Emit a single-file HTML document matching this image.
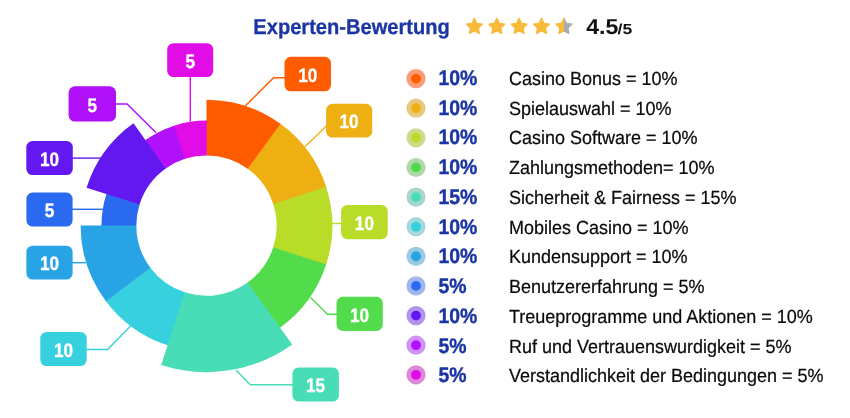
<!DOCTYPE html>
<html><head><meta charset="utf-8"><title>Experten-Bewertung</title>
<style>
html,body{margin:0;padding:0;background:#fff;}
body{width:850px;height:418px;overflow:hidden;font-family:"Liberation Sans",sans-serif;}
#wrap{width:850px;height:418px;will-change:transform;background:#fff;}
svg{display:block;}
text{font-family:"Liberation Sans",sans-serif;text-rendering:geometricPrecision;}
.lt{font-size:19.5px;font-weight:bold;fill:#fff;stroke:#fff;stroke-width:0.35px;}
.title{font-size:21.5px;font-weight:bold;fill:#1B36A4;stroke:#1B36A4;stroke-width:0.3px;}
.pc{font-size:21px;font-weight:bold;fill:#1B36A4;stroke:#1B36A4;stroke-width:0.4px;}
.tx{font-size:19px;fill:#0a0a0a;stroke:#0a0a0a;stroke-width:0.22px;}
.r1{font-size:21.6px;font-weight:bold;fill:#111;}
.r2{font-size:14.6px;font-weight:bold;fill:#111;}
</style></head><body>
<div id="wrap"><svg width="850" height="418" viewBox="0 0 850 418">
<defs><linearGradient id="half" x1="0" x2="1" y1="0" y2="0"><stop offset="0.5" stop-color="#F9BA3A"/><stop offset="0.5" stop-color="#A9ABAE"/></linearGradient></defs>
<rect width="850" height="418" fill="#fff"/>
<g id="leaders">
<polyline points="286.0,77.7 273.6,77.7 245.3,106.0" fill="none" stroke="#FF5C00" stroke-width="1.4"/>
<rect x="284.5" y="56.8" width="46.5" height="34.5" rx="6.3" fill="#FF5C00"/>
<text transform="translate(307.8,81.6) scale(0.88,1)" text-anchor="middle" class="lt">10</text>
<polyline points="328.0,124.5 304.9,146.8" fill="none" stroke="#EDAF12" stroke-width="1.4"/>
<rect x="326.1" y="103.8" width="46.1" height="33.7" rx="6.3" fill="#EDAF12"/>
<text transform="translate(349.1,128.2) scale(0.88,1)" text-anchor="middle" class="lt">10</text>
<polyline points="343.0,223.5 331.0,223.5" fill="none" stroke="#B8DC28" stroke-width="1.4"/>
<rect x="341.1" y="204.9" width="46.6" height="34.3" rx="6.3" fill="#B8DC28"/>
<text transform="translate(364.4,229.7) scale(0.88,1)" text-anchor="middle" class="lt">10</text>
<polyline points="338.0,314.2 327.5,314.2 310.6,297.4" fill="none" stroke="#52DC4C" stroke-width="1.4"/>
<rect x="336.5" y="296.8" width="46.3" height="34.1" rx="6.3" fill="#52DC4C"/>
<text transform="translate(359.6,321.5) scale(0.88,1)" text-anchor="middle" class="lt">10</text>
<polyline points="294.0,384.8 250.4,384.8 235.9,369.9" fill="none" stroke="#48DCB7" stroke-width="1.4"/>
<rect x="292.4" y="367.4" width="46.5" height="34.2" rx="6.3" fill="#48DCB7"/>
<text transform="translate(315.6,392.1) scale(0.88,1)" text-anchor="middle" class="lt">15</text>
<polyline points="85.0,349.5 107.6,349.5 130.9,325.8" fill="none" stroke="#36D0DE" stroke-width="1.4"/>
<rect x="40.3" y="331.9" width="46.4" height="34.1" rx="6.3" fill="#36D0DE"/>
<text transform="translate(63.5,356.6) scale(0.88,1)" text-anchor="middle" class="lt">10</text>
<polyline points="71.0,262.7 86.0,262.7" fill="none" stroke="#28A4E6" stroke-width="1.4"/>
<rect x="26.4" y="245.7" width="46.2" height="33.9" rx="6.3" fill="#28A4E6"/>
<text transform="translate(49.5,270.2) scale(0.88,1)" text-anchor="middle" class="lt">10</text>
<polyline points="71.0,209.3 103.0,209.3" fill="none" stroke="#2A6AF0" stroke-width="1.4"/>
<rect x="26.4" y="192.6" width="46.2" height="33.9" rx="6.3" fill="#2A6AF0"/>
<text transform="translate(49.5,217.2) scale(0.88,1)" text-anchor="middle" class="lt">5</text>
<polyline points="71.0,158.1 101.0,158.1" fill="none" stroke="#6418F0" stroke-width="1.4"/>
<rect x="26.3" y="140.9" width="46.5" height="34.1" rx="6.3" fill="#6418F0"/>
<text transform="translate(49.5,165.5) scale(0.88,1)" text-anchor="middle" class="lt">10</text>
<polyline points="114.0,104.0 127.1,104.0 156.1,132.7" fill="none" stroke="#B010FA" stroke-width="1.4"/>
<rect x="68.6" y="86.3" width="47.4" height="35.3" rx="6.3" fill="#B010FA"/>
<text transform="translate(92.3,111.5) scale(0.88,1)" text-anchor="middle" class="lt">5</text>
<polyline points="190.3,75.0 190.3,121.5" fill="none" stroke="#E20CE6" stroke-width="1.4"/>
<rect x="167.2" y="43.2" width="46.0" height="33.9" rx="6.3" fill="#E20CE6"/>
<text transform="translate(190.2,67.8) scale(0.88,1)" text-anchor="middle" class="lt">5</text>
</g>
<g id="donut">
<path d="M205.95 120.60A105.0 105.0 0 0 1 207.42 120.60L207.11 155.40A70.2 70.2 0 0 0 206.13 155.40Z" fill="#E20CE6"/>
<path d="M206.50 99.80A125.8 125.8 0 0 1 280.44 123.83L247.76 168.81A70.2 70.2 0 0 0 206.50 155.40Z" fill="#FF5C00"/>
<path d="M279.91 123.44A125.8 125.8 0 0 1 281.33 124.47L248.26 169.17A70.2 70.2 0 0 0 247.46 168.59Z" fill="#FF5C00"/>
<path d="M280.44 123.83A125.8 125.8 0 0 1 326.14 186.73L273.26 203.91A70.2 70.2 0 0 0 247.76 168.81Z" fill="#EDAF12"/>
<path d="M325.94 186.10A125.8 125.8 0 0 1 326.48 187.77L273.45 204.49A70.2 70.2 0 0 0 273.15 203.56Z" fill="#EDAF12"/>
<path d="M326.14 186.73A125.8 125.8 0 0 1 326.14 264.47L273.26 247.29A70.2 70.2 0 0 0 273.26 203.91Z" fill="#B8DC28"/>
<path d="M326.34 263.85A125.8 125.8 0 0 1 325.80 265.52L273.07 247.87A70.2 70.2 0 0 0 273.38 246.94Z" fill="#B8DC28"/>
<path d="M326.14 264.47A125.8 125.8 0 0 1 280.09 327.63L247.56 282.54A70.2 70.2 0 0 0 273.26 247.29Z" fill="#52DC4C"/>
<path d="M280.62 327.25A125.8 125.8 0 0 1 279.19 328.27L247.07 282.89A70.2 70.2 0 0 0 247.86 282.32Z" fill="#52DC4C"/>
<path d="M292.20 344.42A146.5 146.5 0 0 1 161.23 364.93L184.81 292.36A70.2 70.2 0 0 0 247.56 282.54Z" fill="#48DCB7"/>
<path d="M168.25 345.44A125.8 125.8 0 0 1 166.58 344.90L184.23 292.17A70.2 70.2 0 0 0 185.16 292.48Z" fill="#48DCB7"/>
<path d="M167.63 345.24A125.8 125.8 0 0 1 105.90 301.13L150.36 267.75A70.2 70.2 0 0 0 184.81 292.36Z" fill="#36D0DE"/>
<path d="M106.30 301.66A125.8 125.8 0 0 1 105.24 300.25L150.00 267.26A70.2 70.2 0 0 0 150.58 268.04Z" fill="#36D0DE"/>
<path d="M105.90 301.13A125.8 125.8 0 0 1 80.70 225.60L136.30 225.60A70.2 70.2 0 0 0 150.36 267.75Z" fill="#28A4E6"/>
<path d="M101.50 226.15A105.0 105.0 0 0 1 101.50 224.68L136.30 224.99A70.2 70.2 0 0 0 136.30 225.97Z" fill="#28A4E6"/>
<path d="M101.50 225.60A105.0 105.0 0 0 1 106.36 194.03L139.55 204.49A70.2 70.2 0 0 0 136.30 225.60Z" fill="#2A6AF0"/>
<path d="M106.20 194.55A105.0 105.0 0 0 1 106.64 193.15L139.74 203.91A70.2 70.2 0 0 0 139.44 204.84Z" fill="#2A6AF0"/>
<path d="M86.52 187.77A125.8 125.8 0 0 1 133.45 123.18L165.73 168.45A70.2 70.2 0 0 0 139.55 204.49Z" fill="#6418F0"/>
<path d="M145.08 140.44A105.0 105.0 0 0 1 146.27 139.59L166.23 168.10A70.2 70.2 0 0 0 165.44 168.66Z" fill="#6418F0"/>
<path d="M145.53 140.12A105.0 105.0 0 0 1 174.23 125.68L184.92 158.80A70.2 70.2 0 0 0 165.73 168.45Z" fill="#B010FA"/>
<path d="M173.70 125.85A105.0 105.0 0 0 1 175.10 125.40L185.51 158.61A70.2 70.2 0 0 0 184.57 158.91Z" fill="#B010FA"/>
<path d="M174.23 125.68A105.0 105.0 0 0 1 206.50 120.60L206.50 155.40A70.2 70.2 0 0 0 184.92 158.80Z" fill="#E20CE6"/>
</g>
<text transform="translate(253.3,34.4) scale(0.935,1)" class="title">Experten-Bewertung</text>
<g id="stars">
<polygon points="474.40,18.20 476.93,23.22 482.48,24.07 478.49,28.03 479.40,33.58 474.40,31.00 469.40,33.58 470.31,28.03 466.32,24.07 471.87,23.22" fill="#F9BA3A" stroke="#F9BA3A" stroke-width="1.2" stroke-linejoin="round"/>
<polygon points="496.80,18.20 499.33,23.22 504.88,24.07 500.89,28.03 501.80,33.58 496.80,31.00 491.80,33.58 492.71,28.03 488.72,24.07 494.27,23.22" fill="#F9BA3A" stroke="#F9BA3A" stroke-width="1.2" stroke-linejoin="round"/>
<polygon points="519.10,18.20 521.63,23.22 527.18,24.07 523.19,28.03 524.10,33.58 519.10,31.00 514.10,33.58 515.01,28.03 511.02,24.07 516.57,23.22" fill="#F9BA3A" stroke="#F9BA3A" stroke-width="1.2" stroke-linejoin="round"/>
<polygon points="541.50,18.20 544.03,23.22 549.58,24.07 545.59,28.03 546.50,33.58 541.50,31.00 536.50,33.58 537.41,28.03 533.42,24.07 538.97,23.22" fill="#F9BA3A" stroke="#F9BA3A" stroke-width="1.2" stroke-linejoin="round"/>
<polygon points="563.90,18.20 566.43,23.22 571.98,24.07 567.99,28.03 568.90,33.58 563.90,31.00 558.90,33.58 559.81,28.03 555.82,24.07 561.37,23.22" fill="url(#half)" stroke="url(#half)" stroke-width="1.2" stroke-linejoin="round"/>
</g>
<text transform="translate(586.2,34.3) scale(1.07,1)" class="r1">4.5</text>
<text transform="translate(617.6,34.3) scale(1.2,1)" class="r2">/5</text>
<g id="legend">
<circle cx="416" cy="78.6" r="9.6" fill="#FF9C78"/><circle cx="416" cy="78.6" r="4.9" fill="#FF5C00"/>
<text transform="translate(438.4,84.9) scale(0.925,1)" class="pc">10%</text>
<text transform="translate(508.9,84.9) scale(0.947,1)" class="tx">Casino Bonus = 10%</text>
<circle cx="416" cy="108.2" r="9.6" fill="#E9C880"/><circle cx="416" cy="108.2" r="4.9" fill="#EDAF12"/>
<text transform="translate(438.4,114.6) scale(0.925,1)" class="pc">10%</text>
<text transform="translate(508.9,114.6) scale(0.947,1)" class="tx">Spielauswahl = 10%</text>
<circle cx="416" cy="137.8" r="9.6" fill="#D0DA8C"/><circle cx="416" cy="137.8" r="4.9" fill="#B8DC28"/>
<text transform="translate(438.4,144.4) scale(0.925,1)" class="pc">10%</text>
<text transform="translate(508.9,144.4) scale(0.947,1)" class="tx">Casino Software = 10%</text>
<circle cx="416" cy="167.5" r="9.6" fill="#B0D8AC"/><circle cx="416" cy="167.5" r="4.9" fill="#52DC4C"/>
<text transform="translate(438.4,174.1) scale(0.925,1)" class="pc">10%</text>
<text transform="translate(508.9,174.1) scale(0.947,1)" class="tx">Zahlungsmethoden= 10%</text>
<circle cx="416" cy="197.1" r="9.6" fill="#A8D6CC"/><circle cx="416" cy="197.1" r="4.9" fill="#48DCB7"/>
<text transform="translate(438.4,203.9) scale(0.925,1)" class="pc">15%</text>
<text transform="translate(508.9,203.9) scale(0.947,1)" class="tx">Sicherheit &amp; Fairness = 15%</text>
<circle cx="416" cy="226.7" r="9.6" fill="#A4D8DC"/><circle cx="416" cy="226.7" r="4.9" fill="#36D0DE"/>
<text transform="translate(438.4,233.6) scale(0.925,1)" class="pc">10%</text>
<text transform="translate(508.9,233.6) scale(0.947,1)" class="tx">Mobiles Casino = 10%</text>
<circle cx="416" cy="256.3" r="9.6" fill="#98CAE2"/><circle cx="416" cy="256.3" r="4.9" fill="#28A4E6"/>
<text transform="translate(438.4,263.3) scale(0.925,1)" class="pc">10%</text>
<text transform="translate(508.9,263.3) scale(0.947,1)" class="tx">Kundensupport = 10%</text>
<circle cx="416" cy="285.9" r="9.6" fill="#A0B6EE"/><circle cx="416" cy="285.9" r="4.9" fill="#2A6AF0"/>
<text transform="translate(438.4,293.1) scale(0.925,1)" class="pc">5%</text>
<text transform="translate(508.9,293.1) scale(0.947,1)" class="tx">Benutzererfahrung = 5%</text>
<circle cx="416" cy="315.6" r="9.6" fill="#AE94EE"/><circle cx="416" cy="315.6" r="4.9" fill="#6418F0"/>
<text transform="translate(438.4,322.8) scale(0.925,1)" class="pc">10%</text>
<text transform="translate(508.9,322.8) scale(0.947,1)" class="tx">Treueprogramme und Aktionen = 10%</text>
<circle cx="416" cy="345.2" r="9.6" fill="#D092F4"/><circle cx="416" cy="345.2" r="4.9" fill="#B010FA"/>
<text transform="translate(438.4,352.6) scale(0.925,1)" class="pc">5%</text>
<text transform="translate(508.9,352.6) scale(0.947,1)" class="tx">Ruf und Vertrauenswurdigkeit = 5%</text>
<circle cx="416" cy="374.8" r="9.6" fill="#DE88DA"/><circle cx="416" cy="374.8" r="4.9" fill="#E20CE6"/>
<text transform="translate(438.4,382.3) scale(0.925,1)" class="pc">5%</text>
<text transform="translate(508.9,382.3) scale(0.947,1)" class="tx">Verstandlichkeit der Bedingungen = 5%</text>
</g>
</svg></div>
</body></html>
